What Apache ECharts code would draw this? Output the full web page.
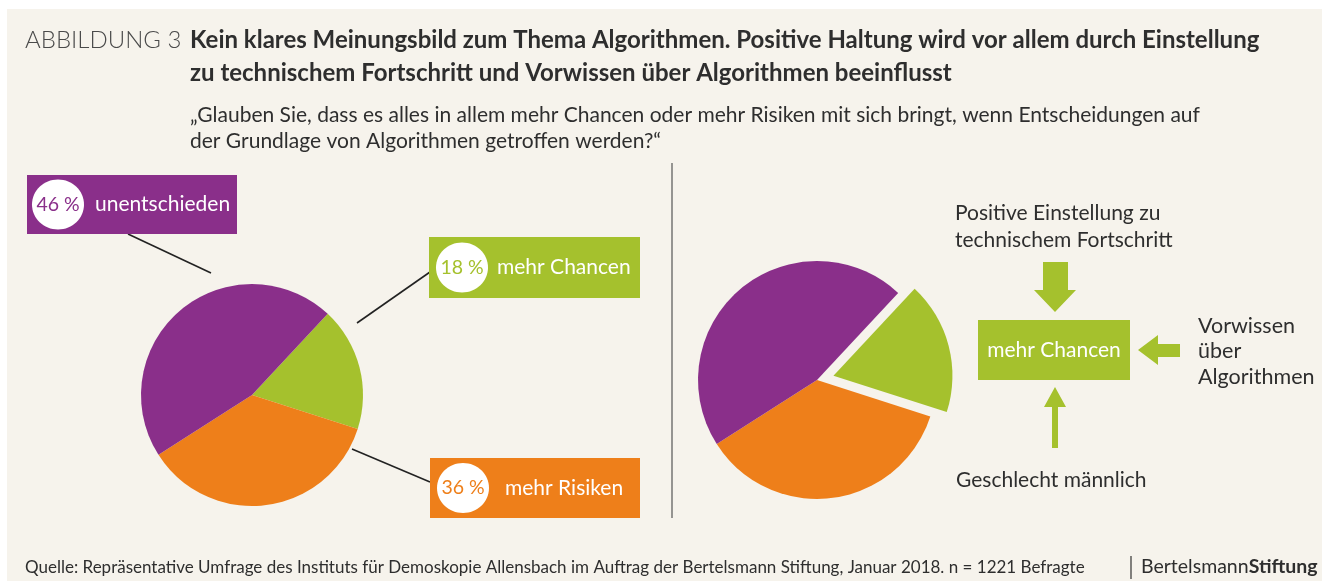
<!DOCTYPE html>
<html>
<head>
<meta charset="utf-8">
<script src="https://cdn.jsdelivr.net/npm/echarts@6/dist/echarts.min.js"></script>
<style>
  html, body { margin: 0; padding: 0; background: #ffffff; }
  #chart { width: 1322px; height: 581px; }
</style>
</head>
<body>
<div id="chart"></div>
<script>
// slice order: green first, then orange, then purple (clockwise)
const categories = ['mehr Chancen', 'mehr Risiken', 'unentschieden']
const shares = [18, 36, 46]
const sliceColors = ['#a5c12d', '#ee7f1a', '#8a2f8a']
const percentLabels = ['18 %', '36 %', '46 %']

const factorsTop = ['Positive Einstellung zu', 'technischem Fortschritt']
const factorsRight = ['Vorwissen', 'über', 'Algorithmen']
const factorBottom = 'Geschlecht männlich'

const font = 'Lato, "Open Sans", sans-serif'
const bg = '#f6f3ec'
const ink = '#2e2e2e'

const chart = echarts.init(document.getElementById('chart'), null, { renderer: 'canvas' })

const pieData = (explode) => categories.map((name, i) => ({
    name: name,
    value: shares[i],
    selected: explode && i === 0,
    itemStyle: { color: sliceColors[i] },
    select: { itemStyle: { color: sliceColors[i] } }
}))

// label boxes of the left pie
const boxes = [
    { i: 2, x: 27, y: 175, w: 210, h: 59, cx: 58, tx: 95 },
    { i: 0, x: 429, y: 237, w: 211, h: 61, cx: 462, tx: 497 },
    { i: 1, x: 430, y: 458, w: 210, h: 60, cx: 463, tx: 505 }
]

let graphics = [
    { type: 'rect', silent: true, z: -10, shape: { x: 7, y: 9, width: 1315, height: 572 }, style: { fill: bg } },
    // heading
    { type: 'text', style: { x: 25, y: 40, text: 'ABBILDUNG 3', font: '300 24px ' + font, fill: '#4a4a4a', verticalAlign: 'middle' } },
    { type: 'text', style: { x: 190, y: 40, text: 'Kein klares Meinungsbild zum Thema Algorithmen. Positive Haltung wird vor allem durch Einstellung', font: 'bold 24px ' + font, fill: ink, verticalAlign: 'middle' } },
    { type: 'text', style: { x: 190, y: 73, text: 'zu technischem Fortschritt und Vorwissen über Algorithmen beeinflusst', font: 'bold 24px ' + font, fill: ink, verticalAlign: 'middle' } },
    { type: 'text', style: { x: 190, y: 115, text: '„Glauben Sie, dass es alles in allem mehr Chancen oder mehr Risiken mit sich bringt, wenn Entscheidungen auf', font: '21px ' + font, fill: ink, verticalAlign: 'middle' } },
    { type: 'text', style: { x: 190, y: 141, text: 'der Grundlage von Algorithmen getroffen werden?“', font: '21px ' + font, fill: ink, verticalAlign: 'middle' } },
    // divider
    { type: 'line', shape: { x1: 672, y1: 163, x2: 672, y2: 518 }, style: { stroke: '#555', lineWidth: 1.2 } },
    // leader lines
    { type: 'line', shape: { x1: 128, y1: 234, x2: 211, y2: 273 }, style: { stroke: '#222', lineWidth: 1.6 } },
    { type: 'line', shape: { x1: 430, y1: 272, x2: 357, y2: 323 }, style: { stroke: '#222', lineWidth: 1.6 } },
    { type: 'line', shape: { x1: 352, y1: 449, x2: 430, y2: 482 }, style: { stroke: '#222', lineWidth: 1.6 } },
    // footer
    { type: 'text', style: { x: 25, y: 568, text: 'Quelle: Repräsentative Umfrage des Instituts für Demoskopie Allensbach im Auftrag der Bertelsmann Stiftung, Januar 2018. n = 1221 Befragte', font: '17px ' + font, fill: ink, verticalAlign: 'middle' } },
    { type: 'line', shape: { x1: 1131, y1: 556, x2: 1131, y2: 579 }, style: { stroke: '#333', lineWidth: 1.2 } },
    { type: 'text', style: { x: 1141, y: 567, text: '{a|Bertelsmann}{b|Stiftung}', rich: { a: { font: '19.5px ' + font, fill: ink }, b: { font: 'bold 19.5px ' + font, fill: ink } }, verticalAlign: 'middle' } },
    // right side diagram
    { type: 'rect', shape: { x: 978, y: 320, width: 152, height: 60 }, style: { fill: sliceColors[0] } },
    { type: 'text', style: { x: 1054, y: 350, text: categories[0], font: '21px ' + font, fill: '#ffffff', align: 'center', verticalAlign: 'middle' } },
    { type: 'polygon', shape: { points: [[1043, 262], [1068, 262], [1068, 290], [1076, 290], [1055, 312], [1034, 290], [1043, 290]] }, style: { fill: sliceColors[0] } },
    { type: 'polygon', shape: { points: [[1138, 350], [1158, 335], [1158, 344], [1180, 344], [1180, 357], [1158, 357], [1158, 365]] }, style: { fill: sliceColors[0] } },
    { type: 'polygon', shape: { points: [[1055, 387], [1066, 407], [1058, 407], [1058, 448], [1052, 448], [1052, 407], [1044, 407]] }, style: { fill: sliceColors[0] } },
    { type: 'text', style: { x: 956, y: 480, text: factorBottom, font: '21px ' + font, fill: ink, verticalAlign: 'middle' } }
]

factorsTop.forEach((t, k) => {
    graphics.push({ type: 'text', style: { x: 955, y: 213 + k * 27, text: t, font: '21px ' + font, fill: ink, verticalAlign: 'middle' } })
})
factorsRight.forEach((t, k) => {
    graphics.push({ type: 'text', style: { x: 1198, y: 326 + k * 25.5, text: t, font: '21.5px ' + font, fill: ink, verticalAlign: 'middle' } })
})

boxes.forEach(b => {
    const cy = b.y + b.h / 2
    graphics.push({ type: 'rect', shape: { x: b.x, y: b.y, width: b.w, height: b.h }, style: { fill: sliceColors[b.i] } })
    graphics.push({ type: 'ellipse', shape: { cx: b.cx, cy: cy, rx: 26, ry: 25 }, style: { fill: '#ffffff' } })
    graphics.push({ type: 'text', style: { x: b.cx, y: cy, text: percentLabels[b.i], font: '19.5px ' + font, fill: sliceColors[b.i], align: 'center', verticalAlign: 'middle' } })
    graphics.push({ type: 'text', style: { x: b.tx, y: cy, text: categories[b.i], font: '21px ' + font, fill: '#ffffff', verticalAlign: 'middle' } })
})

const pieBase = {
    type: 'pie',
    clockwise: true,
    startAngle: 47,
    silent: true,
    animation: false,
    label: { show: false },
    labelLine: { show: false },
    emphasis: { disabled: true },
    itemStyle: { borderWidth: 0 }
}

const option = {
    backgroundColor: '#ffffff',
    animation: false,
    graphic: { elements: graphics },
    series: [
        Object.assign({}, pieBase, {
            center: [252, 395],
            radius: 111,
            data: pieData(false)
        }),
        Object.assign({}, pieBase, {
            center: [817, 380],
            radius: 119,
            selectedMode: 'single',
            selectedOffset: 17,
            data: pieData(true)
        })
    ]
}

chart.setOption(option)
</script>
</body>
</html>
